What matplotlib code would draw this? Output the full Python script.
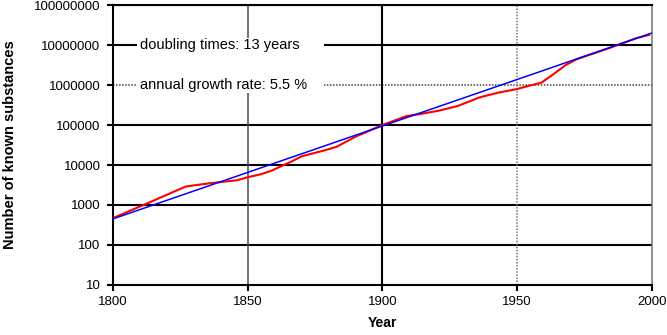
import matplotlib
matplotlib.use("Agg")
import matplotlib.pyplot as plt
from matplotlib.patches import Rectangle
from matplotlib.ticker import FixedLocator, NullLocator

plt.rcParams['font.family'] = ['Liberation Sans', 'DejaVu Sans']

# known substances (red curve)
years = [1800, 1814, 1827, 1836, 1840, 1846, 1850, 1855, 1859, 1866, 1870,
         1879, 1883, 1890, 1900, 1909, 1914, 1921, 1928, 1936, 1943, 1950,
         1954, 1959, 1963, 1968, 1972, 1984, 1994, 1999]
counts = [470, 1200, 2900, 3500, 3750, 4150, 4950, 5900, 7300, 12000, 16500,
          23700, 28600, 51000, 100000, 168000, 188000, 229000, 300000, 490000,
          645000, 794000, 944000, 1150000, 1780000, 3160000, 4400000, 8300000,
          14700000, 18000000]

# exponential fit (blue line)
fit_years = [1800, 2000]
fit_counts = [450, 20000000]

ytick_vals = [10, 100, 1000, 10000, 100000, 1000000, 10000000, 100000000]
xtick_vals = [1800, 1850, 1900, 1950, 2000]

fig = plt.figure(figsize=(6.67, 3.35), dpi=100)
ax = fig.add_axes([0.1694, 0.1493, 0.8081, 0.8357])
ax.set_yscale('log')
ax.set_xlim(1800, 2000)
ax.set_ylim(10, 1e8)

# horizontal grid
for v in ytick_vals[1:]:
    if v == 1000000:
        ax.axhline(v, color='0.25', lw=1.1, ls=(0, (1, 1)), zorder=1)
    else:
        ax.axhline(v, color='black', lw=1.5, zorder=1)
# vertical grid
ax.axvline(1850, color='0.3', lw=1.1, zorder=1)
ax.axvline(1900, color='black', lw=1.5, zorder=1)
ax.axvline(1950, color='0.45', lw=1.1, ls=(0, (1, 1)), zorder=1)

ax.plot(years, counts, color='#ff0000', lw=1.5, zorder=3)
ax.plot(fit_years, fit_counts, color='#0000ff', lw=1.1, zorder=4)

# white box behind the annotations
ax.add_patch(Rectangle((0.0445, 0.686), 0.347, 0.196, transform=ax.transAxes,
                       facecolor='white', edgecolor='none', zorder=5))
tr = ax.get_yaxis_transform()
ax.text(0.05, 1e7, 'doubling times: 13 years', transform=tr, fontsize=10.5,
        va='center', ha='left', zorder=6)
ax.text(0.05, 1e6, 'annual growth rate: 5.5 %', transform=tr, fontsize=10.5,
        va='center', ha='left', zorder=6)

for s in ['left', 'bottom', 'top']:
    ax.spines[s].set_linewidth(1.5)
    ax.spines[s].set_color('black')
ax.spines['right'].set_color('0.45')
ax.spines['right'].set_linestyle((0, (1, 1)))
ax.spines['right'].set_linewidth(1.1)

ax.yaxis.set_major_locator(FixedLocator(ytick_vals))
ax.yaxis.set_minor_locator(NullLocator())
ax.set_yticklabels([str(v) for v in ytick_vals])
ax.set_xticks(xtick_vals)
ax.set_xticklabels([str(v) for v in xtick_vals])
ax.tick_params(axis='both', direction='out', length=4, width=1.5,
               labelsize=9.5)
ax.tick_params(axis='y', pad=5)
ax.tick_params(axis='x', pad=4)

ax.set_xlabel('Year', fontsize=10, fontweight='bold', labelpad=6)
ax.set_ylabel('Number of known substances', fontsize=10.5, fontweight='bold',
              labelpad=12)

fig.savefig('out.png', dpi=100)
